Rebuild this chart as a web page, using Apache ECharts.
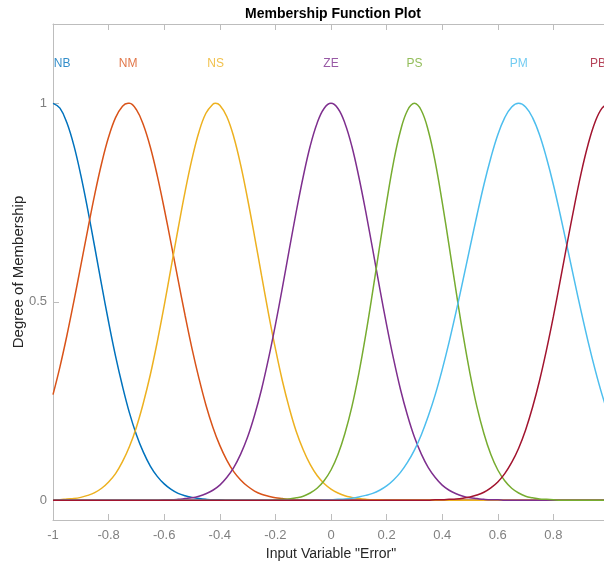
<!DOCTYPE html>
<html>
<head>
<meta charset="utf-8">
<script src="https://cdn.jsdelivr.net/npm/echarts@6/dist/echarts.min.js"></script>
<style>html,body{margin:0;padding:0;background:#fff;}#c{width:604px;height:565px;}</style>
</head>
<body>
<div id="c"></div>
<script>
// Sample positions along the input axis (step 0.025)
const xs = [
  -1, -0.975, -0.95, -0.925, -0.9, -0.875, -0.85, -0.825, -0.8, -0.775,
  -0.75, -0.725, -0.7, -0.675, -0.65, -0.625, -0.6, -0.575, -0.55, -0.525,
  -0.5, -0.475, -0.45, -0.425, -0.4, -0.375, -0.35, -0.325, -0.3, -0.275,
  -0.25, -0.225, -0.2, -0.175, -0.15, -0.125, -0.1, -0.075, -0.05, -0.025,
  0, 0.025, 0.05, 0.075, 0.1, 0.125, 0.15, 0.175, 0.2, 0.225,
  0.25, 0.275, 0.3, 0.325, 0.35, 0.375, 0.4, 0.425, 0.45, 0.475,
  0.5, 0.525, 0.55, 0.575, 0.6, 0.625, 0.65, 0.675, 0.7, 0.725,
  0.75, 0.775, 0.8, 0.825, 0.85, 0.875, 0.9, 0.925, 0.95, 0.975,
  1];

const names = ['NB', 'NM', 'NS', 'ZE', 'PS', 'PM', 'PB'];

// Peak (membership = 1) position of each curve
const peakX = [-1, -0.73, -0.415, 0, 0.3, 0.675, 1];

const NB = [
  1, 0.988, 0.951, 0.894, 0.819, 0.732, 0.638, 0.542, 0.449, 0.363,
  0.287, 0.220, 0.165, 0.121, 0.086, 0.060, 0.041, 0.027, 0.017, 0.011,
  0.007, 0.004, 0.002, 0.001, 0.001, 0, 0, 0, 0, 0,
  0, 0, 0, 0, 0, 0, 0, 0, 0, 0,
  0, 0, 0, 0, 0, 0, 0, 0, 0, 0,
  0, 0, 0, 0, 0, 0, 0, 0, 0, 0,
  0, 0, 0, 0, 0, 0, 0, 0, 0, 0,
  0, 0, 0, 0, 0, 0, 0, 0, 0, 0,
  0];
const NM = [
  0.266, 0.336, 0.415, 0.501, 0.591, 0.682, 0.770, 0.849, 0.915, 0.964,
  0.993, 1.000, 0.984, 0.946, 0.890, 0.818, 0.735, 0.646, 0.555, 0.466,
  0.382, 0.307, 0.240, 0.184, 0.138, 0.101, 0.072, 0.051, 0.035, 0.023,
  0.015, 0.010, 0.006, 0.004, 0.002, 0.001, 0.001, 0, 0, 0,
  0, 0, 0, 0, 0, 0, 0, 0, 0, 0,
  0, 0, 0, 0, 0, 0, 0, 0, 0, 0,
  0, 0, 0, 0, 0, 0, 0, 0, 0, 0,
  0, 0, 0, 0, 0, 0, 0, 0, 0, 0,
  0];
const NS = [
  0.001, 0.001, 0.003, 0.004, 0.007, 0.012, 0.019, 0.030, 0.046, 0.067,
  0.097, 0.135, 0.184, 0.245, 0.316, 0.399, 0.490, 0.587, 0.684, 0.777,
  0.860, 0.928, 0.975, 0.998, 0.995, 0.967, 0.916, 0.845, 0.759, 0.665,
  0.567, 0.471, 0.382, 0.301, 0.232, 0.173, 0.127, 0.090, 0.062, 0.042,
  0.028, 0.018, 0.011, 0.007, 0.004, 0.002, 0.001, 0.001, 0, 0,
  0, 0, 0, 0, 0, 0, 0, 0, 0, 0,
  0, 0, 0, 0, 0, 0, 0, 0, 0, 0,
  0, 0, 0, 0, 0, 0, 0, 0, 0, 0,
  0];
const ZE = [
  0, 0, 0, 0, 0, 0, 0, 0, 0, 0,
  0, 0, 0, 0, 0, 0, 0.001, 0.001, 0.002, 0.004,
  0.006, 0.010, 0.016, 0.025, 0.038, 0.057, 0.082, 0.116, 0.159, 0.214,
  0.279, 0.356, 0.442, 0.535, 0.632, 0.727, 0.815, 0.892, 0.950, 0.987,
  1, 0.987, 0.950, 0.892, 0.815, 0.727, 0.632, 0.535, 0.442, 0.356,
  0.279, 0.214, 0.159, 0.116, 0.082, 0.057, 0.038, 0.025, 0.016, 0.010,
  0.006, 0.004, 0.002, 0.001, 0.001, 0, 0, 0, 0, 0,
  0, 0, 0, 0, 0, 0, 0, 0, 0, 0,
  0];
const PS = [
  0, 0, 0, 0, 0, 0, 0, 0, 0, 0,
  0, 0, 0, 0, 0, 0, 0, 0, 0, 0,
  0, 0, 0, 0, 0, 0, 0, 0, 0, 0,
  0, 0, 0.001, 0.002, 0.003, 0.006, 0.010, 0.018, 0.030, 0.049,
  0.076, 0.115, 0.168, 0.235, 0.319, 0.417, 0.526, 0.640, 0.751, 0.852,
  0.931, 0.982, 1, 0.982, 0.931, 0.852, 0.751, 0.640, 0.526, 0.417,
  0.319, 0.235, 0.168, 0.115, 0.076, 0.049, 0.030, 0.018, 0.010, 0.006,
  0.003, 0.002, 0.001, 0, 0, 0, 0, 0, 0, 0,
  0];
const PM = [
  0, 0, 0, 0, 0, 0, 0, 0, 0, 0,
  0, 0, 0, 0, 0, 0, 0, 0, 0, 0,
  0, 0, 0, 0, 0, 0, 0, 0, 0, 0,
  0, 0, 0, 0, 0, 0, 0, 0, 0, 0.001,
  0.001, 0.002, 0.003, 0.005, 0.008, 0.012, 0.017, 0.025, 0.036, 0.051,
  0.070, 0.095, 0.126, 0.165, 0.212, 0.266, 0.329, 0.399, 0.475, 0.555,
  0.637, 0.718, 0.795, 0.863, 0.921, 0.964, 0.991, 1, 0.991, 0.964,
  0.921, 0.863, 0.795, 0.718, 0.637, 0.555, 0.475, 0.399, 0.329, 0.266,
  0.212];
const PB = [
  0, 0, 0, 0, 0, 0, 0, 0, 0, 0,
  0, 0, 0, 0, 0, 0, 0, 0, 0, 0,
  0, 0, 0, 0, 0, 0, 0, 0, 0, 0,
  0, 0, 0, 0, 0, 0, 0, 0, 0, 0,
  0, 0, 0, 0, 0, 0, 0, 0, 0, 0,
  0, 0, 0, 0, 0, 0.001, 0.001, 0.002, 0.003, 0.005,
  0.008, 0.013, 0.020, 0.031, 0.046, 0.067, 0.095, 0.131, 0.177, 0.234,
  0.301, 0.378, 0.463, 0.555, 0.649, 0.740, 0.825, 0.897, 0.953, 0.988,
  1];

// Where each curve's name is written (x, y in data units)
const labelX = [-0.967, -0.73, -0.415, 0, 0.3, 0.675, 0.96];
const labelY = 1.1;

const xTicks = [-1, -0.8, -0.6, -0.4, -0.2, 0, 0.2, 0.4, 0.6, 0.8, 1];
const yTicks = [0, 0.5, 1];

const colors = ['#0072BD', '#D95319', '#EDB120', '#7E2F8E', '#77AC30', '#4DBEEE', '#A2142F'];
const curves = [NB, NM, NS, ZE, PS, PM, PB];

const FONT = '"Liberation Sans", Arial, sans-serif';
const axisGray = '#bdbdbd';

function curvePoints(ys, px) {
  const pts = xs.map((x, i) => [x, ys[i]]);
  if (!xs.some(x => Math.abs(x - px) < 1e-9)) {
    pts.push([px, 1]);
    pts.sort((a, b) => a[0] - b[0]);
  }
  return pts;
}

const series = curves.map((ys, k) => ({
  name: names[k],
  type: 'line',
  smooth: 0.4,
  showSymbol: false,
  symbol: 'none',
  data: curvePoints(ys, peakX[k]),
  lineStyle: { color: colors[k], width: 1.5 },
  itemStyle: { color: colors[k] },
  z: 2 + k,
  animation: false
}));

series.push({
  type: 'scatter',
  symbolSize: 0,
  data: labelX.map((x, k) => ({
    value: [x, labelY],
    name: names[k],
    label: { show: true, position: 'inside', formatter: names[k], color: colors[k], fontSize: 12, fontFamily: FONT }
  })),
  silent: true,
  animation: false,
  z: 20
});

const chart = echarts.init(document.getElementById('c'), null, { renderer: 'canvas' });
chart.setOption({
  backgroundColor: '#ffffff',
  animation: false,
  title: {
    text: 'Membership Function Plot',
    left: 328,
    top: 2,
    textAlign: 'center',
    textStyle: { fontFamily: FONT, fontSize: 14, fontWeight: 'bold', color: '#000' }
  },
  grid: { left: 53, top: 24, width: 556, height: 496, containLabel: false, outerBoundsMode: 'none' },
  xAxis: [{
    type: 'value', min: -1, max: 1, interval: 0.2, position: 'bottom',
    name: 'Input Variable "Error"', nameLocation: 'middle', nameGap: 25,
    nameTextStyle: { fontFamily: FONT, fontSize: 14, color: '#262626' },
    axisLine: { show: true, onZero: false, lineStyle: { color: axisGray, width: 1 } },
    axisTick: { show: true, inside: true, length: 6, customValues: xTicks, lineStyle: { color: axisGray } },
    axisLabel: { customValues: xTicks, margin: 9, color: '#808080', fontSize: 13, fontFamily: FONT,
                 formatter: v => (Math.round(v * 10) / 10).toString() },
    splitLine: { show: false }
  }, {
    type: 'value', min: -1, max: 1, interval: 0.2, position: 'top',
    axisLine: { show: true, onZero: false, lineStyle: { color: axisGray, width: 1 } },
    axisTick: { show: true, inside: true, length: 6, customValues: xTicks, lineStyle: { color: axisGray } },
    axisLabel: { show: false },
    splitLine: { show: false }
  }],
  yAxis: {
    type: 'value', min: -0.05, max: 1.2,
    name: 'Degree of Membership', nameLocation: 'middle', nameGap: 27, nameMoveOverlap: false,
    nameTextStyle: { fontFamily: FONT, fontSize: 15, color: '#262626' },
    axisLine: { show: true, onZero: false, lineStyle: { color: axisGray, width: 1 } },
    axisTick: { show: true, inside: true, length: 6, customValues: yTicks, lineStyle: { color: axisGray } },
    axisLabel: { customValues: yTicks, margin: 6, color: '#808080', fontSize: 13, fontFamily: FONT,
                 formatter: v => v.toString() },
    splitLine: { show: false }
  },
  series: series
});
</script>
</body>
</html>
